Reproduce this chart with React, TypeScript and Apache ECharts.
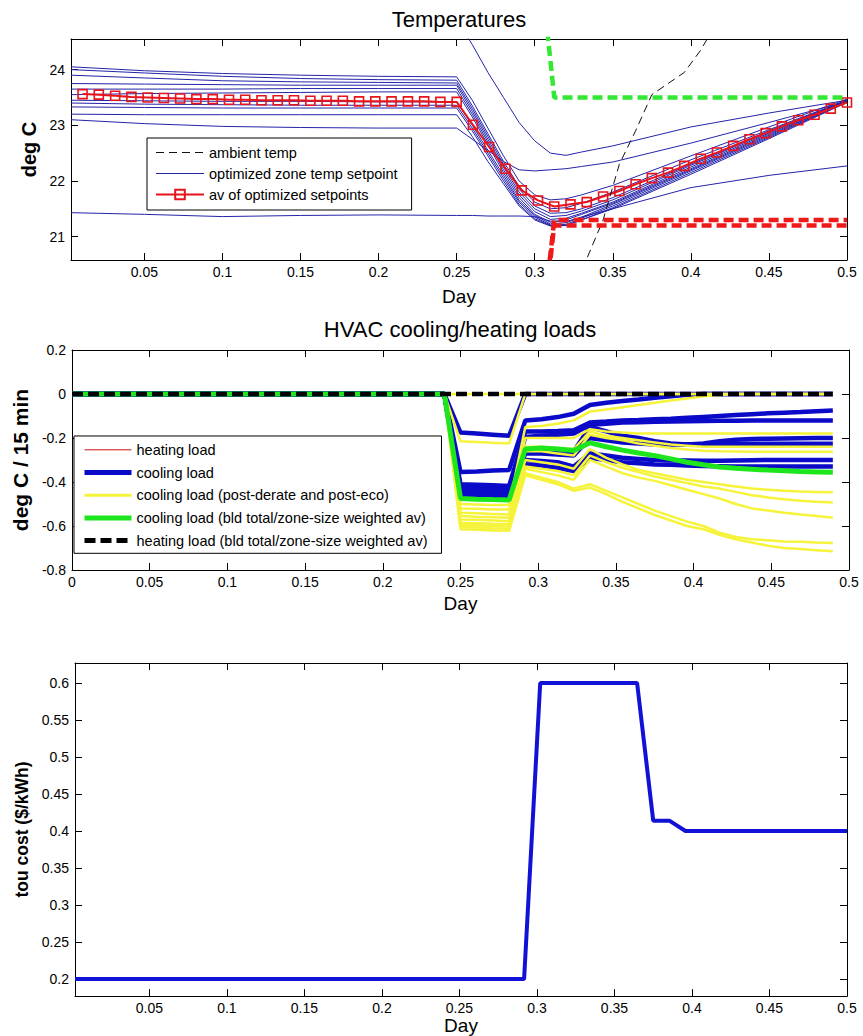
import React, { useEffect, useRef } from "react";
import * as echarts from "echarts";

const FONT = "'Liberation Sans', Arial, Helvetica, sans-serif";

// ---------- Temperatures ----------
const TEMP_X = [0.003, 0.05, 0.1, 0.15, 0.2, 0.25, 0.26, 0.27, 0.28, 0.29, 0.3, 0.31, 0.32, 0.33, 0.35, 0.4, 0.45, 0.5];
const ZONES: number[][] = [
  [25.2, 25.15, 25.1, 25.05, 25.0, 24.9, 24.45, 23.95, 23.5, 23.05, 22.72, 22.5, 22.46, 22.52, 22.63, 22.97, 23.22, 23.45],
  [24.05, 23.98, 23.93, 23.9, 23.88, 23.87, 23.45, 22.95, 22.45, 22.0, 21.75, 21.66, 21.68, 21.75, 21.92, 22.45, 22.97, 23.47],
  [24.0, 23.94, 23.88, 23.84, 23.82, 23.81, 23.35, 22.85, 22.35, 21.9, 21.62, 21.5, 21.52, 21.6, 21.8, 22.38, 22.92, 23.45],
  [23.9, 23.85, 23.8, 23.78, 23.77, 23.76, 23.3, 22.8, 22.3, 21.85, 21.55, 21.42, 21.43, 21.5, 21.7, 22.3, 22.9, 23.45],
  [23.75, 23.74, 23.73, 23.72, 23.72, 23.72, 23.25, 22.75, 22.25, 21.8, 21.5, 21.36, 21.38, 21.46, 21.66, 22.28, 22.88, 23.44],
  [23.65, 23.65, 23.65, 23.66, 23.66, 23.66, 23.2, 22.7, 22.2, 21.75, 21.45, 21.31, 21.33, 21.42, 21.62, 22.25, 22.86, 23.44],
  [23.55, 23.57, 23.58, 23.59, 23.6, 23.6, 23.15, 22.65, 22.15, 21.7, 21.4, 21.26, 21.3, 21.4, 21.6, 22.22, 22.84, 23.43],
  [23.45, 23.44, 23.43, 23.43, 23.42, 23.42, 23.0, 22.55, 22.1, 21.65, 21.38, 21.23, 21.25, 21.35, 21.58, 22.2, 22.82, 23.43],
  [23.4, 23.38, 23.37, 23.36, 23.36, 23.36, 22.95, 22.5, 22.05, 21.62, 21.35, 21.21, 21.22, 21.33, 21.55, 22.18, 22.8, 23.42],
  [23.33, 23.32, 23.31, 23.31, 23.31, 23.31, 22.9, 22.45, 22.0, 21.58, 21.32, 21.2, 21.2, 21.3, 21.52, 22.15, 22.78, 23.42],
  [23.2, 23.19, 23.19, 23.19, 23.19, 23.19, 22.8, 22.35, 21.95, 21.55, 21.3, 21.19, 21.2, 21.3, 21.5, 22.12, 22.76, 23.41],
  [23.1, 23.03, 22.98, 22.96, 22.95, 22.95, 22.75, 22.55, 22.35, 22.2, 22.18, 22.2, 22.22, 22.26, 22.34, 22.68, 23.05, 23.43],
  [21.43, 21.4, 21.36, 21.38, 21.39, 21.38, 21.38, 21.37, 21.37, 21.37, 21.36, 21.28, 21.27, 21.35, 21.5, 21.88, 22.1, 22.27],
];
const AVG_X = [0.0104, 0.0208, 0.0313, 0.0417, 0.0521, 0.0625, 0.0729, 0.0833, 0.0938, 0.1042, 0.1146, 0.125, 0.1354, 0.1458, 0.1563, 0.1667, 0.1771, 0.1875, 0.1979, 0.2083, 0.2188, 0.2292, 0.2396, 0.25, 0.2604, 0.2708, 0.2813, 0.2917, 0.3021, 0.3125, 0.3229, 0.3333, 0.3438, 0.3542, 0.3646, 0.375, 0.3854, 0.3958, 0.4063, 0.4167, 0.4271, 0.4375, 0.4479, 0.4583, 0.4688, 0.4792, 0.4896, 0.5];
const AVG_T = [23.56, 23.55, 23.53, 23.51, 23.5, 23.49, 23.48, 23.47, 23.47, 23.46, 23.46, 23.45, 23.45, 23.45, 23.44, 23.44, 23.44, 23.43, 23.43, 23.43, 23.43, 23.43, 23.42, 23.42, 23.01, 22.61, 22.22, 21.83, 21.65, 21.54, 21.58, 21.62, 21.72, 21.82, 21.94, 22.05, 22.15, 22.27, 22.4, 22.51, 22.63, 22.75, 22.86, 22.98, 23.09, 23.19, 23.3, 23.41];
const AMB_X = [0.3229, 0.3333, 0.3438, 0.3542, 0.3646, 0.375, 0.3854, 0.3958, 0.4063, 0.4167];
const AMB_T = [20.0, 20.6, 21.3, 22.3, 22.9, 23.55, 23.75, 23.95, 24.35, 24.85];
const BOUND_X = [0.3021, 0.3125, 0.5];
const UPPER_BOUND = [26.3, 23.5, 23.5];
const LOWER_BOUND_A = [18.7, 21.3, 21.3];
const LOWER_BOUND_B = [18.6, 21.2, 21.2];
const TEMP_TICKS = [21, 22, 23, 24];

// ---------- HVAC loads ----------
const LOAD_X = [0, 0.2396, 0.25, 0.2604, 0.2708, 0.2813, 0.2917, 0.3021, 0.3125, 0.3229, 0.3333, 0.3438, 0.3542, 0.3646, 0.375, 0.3854, 0.3958, 0.4063, 0.4167, 0.4271, 0.4375, 0.4479, 0.4583, 0.4688, 0.4792, 0.4896];
const HEATING = [0, 0, 0, 0, 0, 0, 0, 0, 0, 0, 0, 0, 0, 0, 0, 0, 0, 0, 0, 0, 0, 0, 0, 0, 0, 0];
const COOLING: number[][] = [
  [0, 0, -0.175, -0.18, -0.185, -0.19, 0, 0, 0, 0, 0, 0, 0, 0, 0, 0, 0, 0, 0, 0, 0, 0, 0, 0, 0, 0],
  [0, 0, -0.355, -0.352, -0.348, -0.345, -0.12, -0.115, -0.105, -0.09, -0.05, -0.04, -0.032, -0.025, -0.017, -0.01, -0.004, 0, 0, 0, 0, 0, 0, 0, 0, 0],
  [0, 0, -0.41, -0.412, -0.415, -0.418, -0.17, -0.17, -0.168, -0.165, -0.13, -0.125, -0.12, -0.118, -0.115, -0.112, -0.108, -0.104, -0.1, -0.096, -0.092, -0.088, -0.085, -0.082, -0.078, -0.075],
  [0, 0, -0.425, -0.428, -0.43, -0.432, -0.195, -0.19, -0.185, -0.18, -0.14, -0.135, -0.13, -0.128, -0.126, -0.125, -0.124, -0.123, -0.122, -0.122, -0.121, -0.121, -0.12, -0.12, -0.12, -0.12],
  [0, 0, -0.44, -0.442, -0.445, -0.448, -0.25, -0.25, -0.255, -0.26, -0.15, -0.17, -0.19, -0.2, -0.215, -0.225, -0.23, -0.225, -0.215, -0.208, -0.205, -0.203, -0.202, -0.201, -0.2, -0.2],
  [0, 0, -0.45, -0.452, -0.455, -0.458, -0.27, -0.27, -0.275, -0.28, -0.2, -0.21, -0.22, -0.225, -0.23, -0.23, -0.23, -0.228, -0.227, -0.226, -0.226, -0.226, -0.226, -0.226, -0.226, -0.226],
  [0, 0, -0.455, -0.458, -0.462, -0.465, -0.3, -0.305, -0.31, -0.33, -0.27, -0.28, -0.29, -0.295, -0.3, -0.302, -0.302, -0.303, -0.303, -0.302, -0.301, -0.3, -0.3, -0.3, -0.3, -0.3],
  [0, 0, -0.462, -0.465, -0.47, -0.472, -0.32, -0.325, -0.335, -0.35, -0.29, -0.3, -0.31, -0.315, -0.32, -0.322, -0.325, -0.327, -0.328, -0.329, -0.33, -0.33, -0.33, -0.33, -0.33, -0.33],
];
const COOLING_POST: number[][] = [
  [0, 0, 0, 0, 0, 0, 0, 0, 0, 0, 0, 0, 0, 0, 0, 0, 0, 0, 0, 0, 0, 0, 0, 0, 0, 0],
  [0, 0, -0.215, -0.218, -0.222, -0.225, 0, 0, 0, 0, 0, 0, 0, 0, 0, 0, 0, 0, 0, 0, 0, 0, 0, 0, 0, 0],
  [0, 0, -0.5, -0.502, -0.505, -0.505, -0.15, -0.145, -0.135, -0.12, -0.08, -0.07, -0.06, -0.05, -0.04, -0.03, -0.02, -0.01, -0.004, 0, 0, 0, 0, 0, 0, 0],
  [0, 0, -0.52, -0.522, -0.525, -0.525, -0.2, -0.2, -0.2, -0.2, -0.16, -0.17, -0.175, -0.18, -0.18, -0.18, -0.18, -0.18, -0.18, -0.18, -0.18, -0.18, -0.18, -0.18, -0.18, -0.18],
  [0, 0, -0.54, -0.542, -0.545, -0.548, -0.24, -0.24, -0.245, -0.25, -0.17, -0.19, -0.2, -0.21, -0.22, -0.23, -0.235, -0.24, -0.24, -0.24, -0.24, -0.24, -0.24, -0.24, -0.24, -0.24],
  [0, 0, -0.555, -0.558, -0.56, -0.562, -0.26, -0.26, -0.27, -0.28, -0.185, -0.2, -0.21, -0.225, -0.235, -0.245, -0.252, -0.258, -0.26, -0.261, -0.262, -0.262, -0.262, -0.262, -0.262, -0.262],
  [0, 0, -0.57, -0.572, -0.575, -0.578, -0.3, -0.31, -0.32, -0.34, -0.25, -0.29, -0.32, -0.345, -0.36, -0.375, -0.39, -0.4, -0.41, -0.42, -0.43, -0.435, -0.44, -0.443, -0.445, -0.447],
  [0, 0, -0.585, -0.587, -0.59, -0.592, -0.33, -0.34, -0.35, -0.37, -0.28, -0.31, -0.335, -0.355, -0.375, -0.39, -0.405, -0.42, -0.43, -0.445, -0.46, -0.47, -0.478, -0.485, -0.49, -0.493],
  [0, 0, -0.595, -0.597, -0.6, -0.602, -0.34, -0.355, -0.37, -0.39, -0.3, -0.33, -0.36, -0.38, -0.395, -0.415, -0.435, -0.455, -0.475, -0.5, -0.52, -0.53, -0.54, -0.548, -0.555, -0.562],
  [0, 0, -0.605, -0.607, -0.61, -0.612, -0.36, -0.38, -0.4, -0.43, -0.41, -0.44, -0.47, -0.5, -0.53, -0.555, -0.58, -0.6, -0.63, -0.65, -0.66, -0.665, -0.67, -0.672, -0.675, -0.677],
  [0, 0, -0.615, -0.617, -0.62, -0.622, -0.37, -0.39, -0.41, -0.44, -0.425, -0.455, -0.49, -0.52, -0.55, -0.575, -0.6, -0.615, -0.64, -0.66, -0.675, -0.69, -0.7, -0.705, -0.71, -0.715],
];
const COOLING_BLD = [0, 0, -0.475, -0.478, -0.48, -0.482, -0.25, -0.245, -0.25, -0.257, -0.222, -0.24, -0.255, -0.268, -0.28, -0.295, -0.31, -0.322, -0.332, -0.338, -0.342, -0.346, -0.349, -0.352, -0.354, -0.356];
const HEATING_BLD = [0, 0, 0, 0, 0, 0, 0, 0, 0, 0, 0, 0, 0, 0, 0, 0, 0, 0, 0, 0, 0, 0, 0, 0, 0, 0];
const LOAD_TICKS = [-0.8, -0.6, -0.4, -0.2, 0, 0.2];

// ---------- TOU cost ----------
const TOU_X = [0.002, 0.2917, 0.3021, 0.3646, 0.375, 0.3854, 0.3958, 0.5];
const TOU_COST = [0.2, 0.2, 0.6, 0.6, 0.414, 0.414, 0.4, 0.4];
const TOU_TICKS = [0.2, 0.25, 0.3, 0.35, 0.4, 0.45, 0.5, 0.55, 0.6];

const DAY_TICKS_A = [0.05, 0.1, 0.15, 0.2, 0.25, 0.3, 0.35, 0.4, 0.45, 0.5];
const DAY_TICKS_B = [0, 0.05, 0.1, 0.15, 0.2, 0.25, 0.3, 0.35, 0.4, 0.45, 0.5];

const fmt = (v: number) => String(Number(Number(v).toFixed(3)));
const pts = (xs: number[], ys: number[]) => xs.map((x, i) => [x, ys[i]]);

function xPair(gridIndex: number, min: number, ticks: number[], nameGap: number) {
  const base = {
    type: "value",
    gridIndex,
    min,
    max: 0.5,
    splitLine: { show: false },
    axisLine: { show: true, onZero: false, lineStyle: { color: "#000", width: 1 } },
  };
  return [
    {
      ...base,
      position: "bottom",
      axisTick: { show: true, inside: true, length: 7, lineStyle: { color: "#000" }, customValues: ticks },
      axisLabel: { show: true, customValues: ticks, formatter: fmt, color: "#000", fontSize: 14, fontFamily: FONT, margin: 5 },
      name: "Day",
      nameLocation: "middle",
      nameGap,
      nameTextStyle: { fontSize: 19, color: "#000", fontFamily: FONT },
    },
    {
      ...base,
      position: "top",
      axisTick: { show: true, inside: true, length: 7, lineStyle: { color: "#000" }, customValues: ticks },
      axisLabel: { show: false },
    },
  ];
}

function yPair(gridIndex: number, min: number, max: number, ticks: number[], name: string, nameGap: number, nameSize: number) {
  const base = {
    type: "value",
    gridIndex,
    min,
    max,
    splitLine: { show: false },
    axisLine: { show: true, onZero: false, lineStyle: { color: "#000", width: 1 } },
  };
  return [
    {
      ...base,
      position: "left",
      axisTick: { show: true, inside: true, length: 7, lineStyle: { color: "#000" }, customValues: ticks },
      axisLabel: { show: true, customValues: ticks, formatter: fmt, color: "#000", fontSize: 14, fontFamily: FONT, margin: 6 },
      name,
      nameLocation: "middle",
      nameGap,
      nameRotate: 90,
      nameTextStyle: { fontSize: nameSize, fontWeight: "bold", color: "#000", fontFamily: FONT },
    },
    {
      ...base,
      position: "right",
      axisTick: { show: true, inside: true, length: 7, lineStyle: { color: "#000" }, customValues: ticks },
      axisLabel: { show: false },
    },
  ];
}

const NO_SYMBOL = { color: "rgba(0,0,0,0)", borderWidth: 0, opacity: 0 };

const line = (name: string, xi: number, data: number[][], lineStyle: any, z: number, extra: any = {}) => ({
  type: "line",
  name,
  xAxisIndex: xi,
  yAxisIndex: xi,
  data,
  symbol: "none",
  showSymbol: false,
  clip: true,
  silent: true,
  z,
  lineStyle,
  itemStyle: { color: lineStyle.color },
  emphasis: { disabled: true },
  ...extra,
});

const ZONE_COLOR = "#2424aa";
const AVG_COLOR = "#e8141c";
const BLUE = "#0a0ac8";
const YELLOW = "#f5f33a";
const GREEN = "#1de61d";

const series: any[] = [];
ZONES.forEach((z) => series.push(line("optimized zone temp setpoint", 0, pts(TEMP_X, z), { color: ZONE_COLOR, width: 1 }, 2)));
series.push(
  line("av of optimized setpoints", 0, pts(AVG_X, AVG_T), { color: AVG_COLOR, width: 2 }, 3, {
    symbol: "rect",
    symbolSize: 9,
    showSymbol: true,
    showAllSymbol: true,
    itemStyle: { color: "rgba(255,255,255,0)", borderColor: AVG_COLOR, borderWidth: 1.6 },
  })
);
series.push(line("ambient temp", 0, pts(AMB_X, AMB_T), { color: "#111", width: 1, type: [8, 5] }, 4));
series.push(line("upper bound", 0, pts(BOUND_X, UPPER_BOUND), { color: "#33e833", width: 4.5, type: [10, 5] }, 4));
series.push(line("lower bound a", 0, pts(BOUND_X, LOWER_BOUND_A), { color: "#ee1a1a", width: 4.5, type: [10, 5] }, 4));
series.push(line("lower bound b", 0, pts(BOUND_X, LOWER_BOUND_B), { color: "#ee1a1a", width: 4.5, type: [10, 5], dashOffset: 7 }, 4));

series.push(line("heating load", 2, pts(LOAD_X, HEATING), { color: "#cc1010", width: 1 }, 2));
COOLING.forEach((c) => series.push(line("cooling load", 2, pts(LOAD_X, c), { color: BLUE, width: 4.5 }, 3)));
COOLING_POST.forEach((c) => series.push(line("cooling load (post-derate and post-eco)", 2, pts(LOAD_X, c), { color: YELLOW, width: 2.5 }, 4)));
series.push(line("cooling load (bld total/zone-size weighted av)", 2, pts(LOAD_X, COOLING_BLD), { color: GREEN, width: 5 }, 5));
series.push(line("heating load (bld total/zone-size weighted av)", 2, pts(LOAD_X, HEATING_BLD), { color: "#000", width: 4.5, type: [11, 5] }, 6));

series.push(line("tou cost", 4, pts(TOU_X, TOU_COST), { color: "#1212d6", width: 4 }, 3));

const legendText = { fontSize: 14.5, color: "#000", fontFamily: FONT };

const option: any = {
  animation: false,
  backgroundColor: "#fff",
  grid: [
    { left: 71, top: 39, width: 776, height: 221, containLabel: false },
    { left: 72, top: 350, width: 777, height: 220, containLabel: false },
    { left: 75, top: 663, width: 772, height: 335, containLabel: false },
  ],
  xAxis: [...xPair(0, 0.003, DAY_TICKS_A, 27), ...xPair(1, 0, DAY_TICKS_B, 24), ...xPair(2, 0.002, DAY_TICKS_A, 18)],
  yAxis: [
    ...yPair(0, 20.58, 24.55, TEMP_TICKS, "deg C", 28, 20),
    ...yPair(1, -0.8, 0.2, LOAD_TICKS, "deg C / 15 min", 37, 21),
    ...yPair(2, 0.177, 0.627, TOU_TICKS, "tou cost ($/kWh)", 44, 17.5),
  ],
  legend: [
    {
      left: 147,
      top: 138,
      orient: "vertical",
      selectedMode: false,
      backgroundColor: "#fff",
      borderColor: "#000",
      borderWidth: 1,
      borderRadius: 0,
      padding: [7, 14, 8, 8],
      itemWidth: 48,
      itemHeight: 12,
      itemGap: 6,
      textStyle: legendText,
      data: [
        { name: "ambient temp", lineStyle: { color: "#111", width: 1, type: [8, 5] }, itemStyle: NO_SYMBOL },
        { name: "optimized zone temp setpoint", lineStyle: { color: ZONE_COLOR, width: 1 }, itemStyle: NO_SYMBOL },
        { name: "av of optimized setpoints", lineStyle: { color: AVG_COLOR, width: 2 } },
      ],
    },
    {
      left: 74,
      top: 436,
      orient: "vertical",
      selectedMode: false,
      backgroundColor: "#fff",
      borderColor: "#000",
      borderWidth: 1,
      borderRadius: 0,
      padding: [6.3, 14, 5.2, 8],
      itemWidth: 47,
      itemHeight: 14,
      itemGap: 7.7,
      textStyle: legendText,
      data: [
        { name: "heating load", lineStyle: { color: "#cc1010", width: 1 }, itemStyle: NO_SYMBOL },
        { name: "cooling load", lineStyle: { color: BLUE, width: 5 }, itemStyle: NO_SYMBOL },
        { name: "cooling load (post-derate and post-eco)", lineStyle: { color: YELLOW, width: 3 }, itemStyle: NO_SYMBOL },
        { name: "cooling load (bld total/zone-size weighted av)", lineStyle: { color: GREEN, width: 5 }, itemStyle: NO_SYMBOL },
        { name: "heating load (bld total/zone-size weighted av)", lineStyle: { color: "#000", width: 5, type: [11, 5] }, itemStyle: NO_SYMBOL },
      ],
    },
  ],
  graphic: [
    { type: "text", x: 459, y: 19, style: { text: "Temperatures", fill: "#000", font: `22px ${FONT}`, textAlign: "center", textVerticalAlign: "middle" } },
    { type: "text", x: 460, y: 329, style: { text: "HVAC cooling/heating loads", fill: "#000", font: `22px ${FONT}`, textAlign: "center", textVerticalAlign: "middle" } },
  ],
  series,
};

export default function App() {
  const ref = useRef<HTMLDivElement>(null);
  useEffect(() => {
    if (!ref.current) return;
    const chart = echarts.init(ref.current, null, { renderer: "svg" });
    chart.setOption(option);
    return () => chart.dispose();
  }, []);
  return <div ref={ref} style={{ position: "absolute", left: 0, top: 0, width: 863, height: 1036, background: "#fff" }} />;
}
